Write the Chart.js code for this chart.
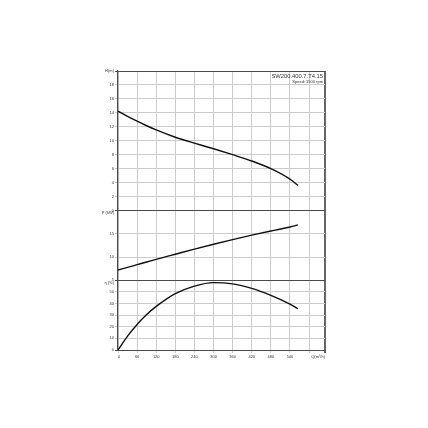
<!DOCTYPE html>
<html>
<head>
<meta charset="utf-8">
<script src="https://cdn.jsdelivr.net/npm/chart.js@4.4.0/dist/chart.umd.min.js"></script>
<style>
  html, body { margin: 0; background: #fff; }
  #wrap { width: 428px; height: 428px; }
</style>
</head>
<body>
<div id="wrap"><canvas id="pumpChart"></canvas></div>
<script>
// curve data
const flow = [0, 30, 60, 90, 120, 180, 240, 300, 360, 420, 480, 540, 565];
const head = [14.25, 13.5, 12.8, 12.15, 11.55, 10.5, 9.65, 8.85, 8.0, 7.1, 6.0, 4.5, 3.6];
const power = [7.2, 7.78, 8.35, 8.92, 9.5, 10.6, 11.7, 12.75, 13.75, 14.7, 15.6, 16.45, 16.9];
const efficiency = [0, 12, 22, 30.5, 37.5, 48.5, 55, 58, 56.9, 53, 47, 39.5, 35.5];

const flowTicks = [0, 60, 120, 180, 240, 300, 360, 420, 480, 540, 600];
const flowLabel = 'Q(m³/h)';
const headLabel = 'H(m)';
const powerLabel = 'P (kW)';
const effLabel = 'η (%)';
const modelName = 'SW200.400.7.T4.15';
const speedText = 'Speed: 1500 rpm';

const FONT = '"Liberation Sans", Arial, sans-serif';
const tickFont = { family: FONT, size: 4 };
const GRID = '#cccccc';
const DARK = '#4a4a4a';

const toPoints = ys => flow.map((q, i) => ({ x: q, y: ys[i] }));

function edgeGrid(ctx) {
  const s = ctx.scale;
  if (!ctx.tick) return GRID;
  return (ctx.tick.value === s.min || ctx.tick.value === s.max) ? DARK : GRID;
}

function yAxis(min, max, step, weight, topLabel) {
  return {
    type: 'linear',
    position: 'left',
    stack: 'pump',
    stackWeight: weight,
    min: min,
    max: max,
    afterFit: s => { s.width = 18; },
    ticks: {
      stepSize: step,
      autoSkip: false,
      font: tickFont,
      color: '#333',
      padding: 1,
      callback: v => v === max ? topLabel : v
    },
    grid: { color: edgeGrid, lineWidth: 1, tickLength: 3 },
    border: { color: DARK, width: 1.2 }
  };
}

const cornerText = {
  id: 'cornerText',
  afterDraw(chart) {
    const { ctx, chartArea } = chart;
    ctx.save();
    ctx.fillStyle = '#333';
    ctx.textAlign = 'right';
    ctx.font = '5.8px ' + FONT;
    ctx.fillText(modelName, chartArea.right - 2, chartArea.top + 7);
    ctx.font = '4px ' + FONT;
    ctx.fillText(speedText, chartArea.right - 2, chartArea.top + 11.5);
    ctx.restore();
  }
};

const lineStyle = {
  borderColor: '#111',
  borderWidth: 1.4,
  pointRadius: 0,
  fill: false,
  cubicInterpolationMode: 'monotone'
};

new Chart(document.getElementById('pumpChart'), {
  type: 'line',
  data: {
    datasets: [
      Object.assign({ label: 'H', data: toPoints(head), yAxisID: 'h' }, lineStyle),
      Object.assign({ label: 'P', data: toPoints(power), yAxisID: 'p' }, lineStyle),
      Object.assign({ label: 'eta', data: toPoints(efficiency), yAxisID: 'eta' }, lineStyle)
    ]
  },
  options: {
    responsive: true,
    maintainAspectRatio: false,
    animation: false,
    layout: { padding: { left: 100, top: 71, right: 103, bottom: 68 } },
    plugins: { legend: { display: false }, tooltip: { enabled: false } },
    scales: {
      x: {
        type: 'linear',
        min: 0,
        max: 650,
        afterBuildTicks: s => { s.ticks = flowTicks.concat([650]).map(v => ({ value: v })); },
        afterFit: s => { s.height = 10; },
        ticks: {
          autoSkip: false,
          align: 'inner',
          maxRotation: 0,
          font: tickFont,
          color: '#333',
          padding: 1,
          callback: v => v === 650 ? flowLabel : (v === 600 ? '' : v)
        },
        grid: {
          color: c => (c.tick && c.tick.value === 650) ? '#666' : GRID,
          lineWidth: c => (c.tick && c.tick.value === 650) ? 2 : 1,
          tickLength: 3
        },
        border: { color: DARK, width: 1 }
      },
      eta: yAxis(0, 60, 10, 1, ['', effLabel]),
      p: yAxis(5, 20, 5, 1, ['', powerLabel]),
      h: yAxis(0, 20, 2, 2, headLabel)
    }
  },
  plugins: [cornerText]
});
</script>
</body>
</html>
